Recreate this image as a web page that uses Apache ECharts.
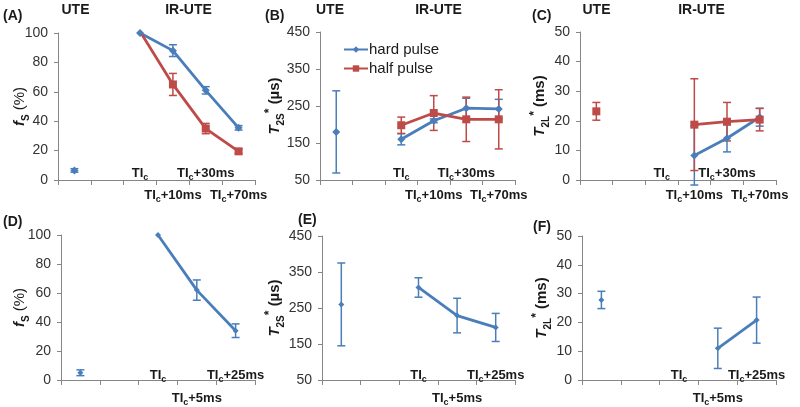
<!DOCTYPE html>
<html><head><meta charset="utf-8">
<script src="https://cdn.jsdelivr.net/npm/echarts@6/dist/echarts.min.js"></script>
<style>html,body{margin:0;padding:0;background:#fff}#c{width:800px;height:407px}</style>
</head><body><div id="c"></div>
<script>
// ---- data ----
const catsTop = ['UTE', '', 'TIc', 'TIc+10ms', 'TIc+30ms', 'TIc+70ms'];
const catsBottom = ['UTE', '', 'TIc', 'TIc+5ms', 'TIc+25ms'];

const fsHard = [6.5, null, 100, 88, 61, 35.5];
const fsHardErr = [1.2, null, 0, 4, 2.5, 1.5];
const fsHalf = [null, null, 101, 65, 35, 19.5];
const fsHalfErr = [null, null, 0, 7.5, 3.5, 1.5];

const t2sHard = [180, null, 160, 210, 244, 242];
const t2sHardErr = [111, null, 15, 5, 27, 26];
const t2sHalf = [null, null, 198, 231, 214, 214];
const t2sHalfErr = [null, null, 22, 47, 60, 80];

const t2lHard = [null, null, null, 8.3, 14.1, 21.2];
const t2lHardErr = [null, null, null, 10, 4.6, 3];
const t2lHalf = [23.2, null, null, 18.7, 19.7, 20.4];
const t2lHalfErr = [3, null, null, 15.5, 6.5, 3.8];

const fs5 = [5, null, 100, 62, 34];
const fs5Err = [2, null, 0, 7, 4.7];
const t2s5 = [260, null, 307, 229, 196];
const t2s5Err = [115, null, 27, 48, 39];
const t2l5 = [27.8, null, null, 11, 20.8];
const t2l5Err = [3, null, null, 7, 8];

const fsTicks = {min: 0, max: 100, interval: 20};
const t2sTicks = {min: 50, max: 450, interval: 100};
const t2lTicks = {min: 0, max: 50, interval: 10};

// ---- styles ----
const BLUE = '#4A7EBB';
const RED = '#BE4B48';
const AXIS = '#868686';
const FONT = 'Liberation Sans, Arial, sans-serif';

const catRich = {
  b: {fontFamily: FONT, fontWeight: 'bold', fontSize: 13, color: '#1a1a1a', lineHeight: 18},
  s: {fontFamily: FONT, fontWeight: 'bold', fontSize: 9, color: '#1a1a1a', lineHeight: 18, verticalAlign: 'bottom'}
};
function fmtCat(v) {
  if (!v || v.indexOf('TIc') !== 0) return '';
  const rest = v.slice(3);
  return '{b|TI}{s|c}' + (rest ? '{b|' + rest + '}' : '');
}
const nameRich = {
  i: {fontFamily: FONT, fontWeight: 'bold', fontStyle: 'italic', fontSize: 15, color: '#1a1a1a', lineHeight: 22},
  sub: {fontFamily: FONT, fontWeight: 'bold', fontSize: 10, color: '#1a1a1a', lineHeight: 22, verticalAlign: 'bottom'},
  sup: {fontFamily: FONT, fontWeight: 'bold', fontSize: 12, color: '#1a1a1a', lineHeight: 22, verticalAlign: 'top'},
  r: {fontFamily: FONT, fontSize: 15, color: '#1a1a1a', lineHeight: 22},
  bb: {fontFamily: FONT, fontWeight: 'bold', fontSize: 15, color: '#1a1a1a', lineHeight: 22}
};
const NAME_FS = '{i|f}{sub|S}{r| (%)}';
const NAME_T2S = '{i|T}{sub|2S}{sup|*}{bb| (µs)}';
const NAME_T2L = '{i|T}{sub|2L}{sup|*}{bb| (ms)}';

const panels = [
  {grid: {left: 58, top: 33, width: 197, height: 147}, cats: catsTop, ticks: fsTicks, name: NAME_FS, gap: 27, up: -16, low: 6,
   series: [{name: 'hard pulse', v: fsHard, e: fsHardErr, c: BLUE, sym: 'diamond', size: 8},
            {name: 'half pulse', v: fsHalf, e: fsHalfErr, c: RED, sym: 'rect', size: 8}]},
  {grid: {left: 320, top: 32, width: 195, height: 148}, cats: catsTop, ticks: t2sTicks, name: NAME_T2S, gap: 34, up: -16, low: 6,
   series: [{name: 'hard pulse', v: t2sHard, e: t2sHardErr, c: BLUE, sym: 'diamond', size: 8},
            {name: 'half pulse', v: t2sHalf, e: t2sHalfErr, c: RED, sym: 'rect', size: 8}]},
  {grid: {left: 580, top: 32, width: 196, height: 148}, cats: catsTop, ticks: t2lTicks, name: NAME_T2L, gap: 29, up: -16, low: 6,
   series: [{name: 'hard pulse', v: t2lHard, e: t2lHardErr, c: BLUE, sym: 'diamond', size: 8},
            {name: 'half pulse', v: t2lHalf, e: t2lHalfErr, c: RED, sym: 'rect', size: 8}]},
  {grid: {left: 61, top: 235, width: 194, height: 148}, cats: catsBottom, ticks: fsTicks, name: NAME_FS, gap: 30, up: -14, low: 9,
   series: [{name: 'hard pulse', v: fs5, e: fs5Err, c: BLUE, sym: 'diamond', size: 6}]},
  {grid: {left: 322, top: 236, width: 193, height: 148}, cats: catsBottom, ticks: t2sTicks, name: NAME_T2S, gap: 36, up: -14, low: 9,
   series: [{name: 'hard pulse', v: t2s5, e: t2s5Err, c: BLUE, sym: 'diamond', size: 6}]},
  {grid: {left: 582, top: 236, width: 194, height: 147}, cats: catsBottom, ticks: t2lTicks, name: NAME_T2L, gap: 29, up: -14, low: 9,
   series: [{name: 'hard pulse', v: t2l5, e: t2l5Err, c: BLUE, sym: 'diamond', size: 6}]}
];

const grids = [], xAxes = [], yAxes = [], series = [];
panels.forEach((p, g) => {
  grids.push(Object.assign({containLabel: false}, p.grid));
  xAxes.push({
    type: 'category', gridIndex: g, data: p.cats, position: 'bottom', boundaryGap: true,
    axisLine: {show: true, lineStyle: {color: AXIS, width: 1}},
    axisTick: {show: true, interval: 0, length: 5, lineStyle: {color: AXIS}},
    axisLabel: {interval: (i) => i % 2 === 0, margin: p.up, formatter: fmtCat, rich: catRich},
    splitLine: {show: false}
  });
  xAxes.push({
    type: 'category', gridIndex: g, data: p.cats, position: 'bottom', boundaryGap: true,
    axisLine: {show: false}, axisTick: {show: false},
    axisLabel: {interval: (i) => i % 2 === 1, margin: p.low, formatter: fmtCat, rich: catRich},
    splitLine: {show: false}
  });
  yAxes.push({
    type: 'value', gridIndex: g, min: p.ticks.min, max: p.ticks.max, interval: p.ticks.interval,
    axisLine: {show: true, lineStyle: {color: AXIS, width: 1}},
    axisTick: {show: true, length: 4, lineStyle: {color: AXIS}},
    axisLabel: {fontFamily: FONT, fontSize: 14, color: '#333', margin: 10},
    splitLine: {show: false},
    name: p.name, nameLocation: 'middle', nameGap: p.gap, nameRotate: 90, nameMoveOverlap: false,
    nameTextStyle: {rich: nameRich}
  });
  p.series.forEach((s) => {
    const errData = [];
    s.v.forEach((val, i) => {
      if (val != null && s.e[i]) errData.push([i, val - s.e[i], val + s.e[i]]);
    });
    series.push({
      type: 'custom', xAxisIndex: 2 * g, yAxisIndex: g, data: errData, silent: true, z: 3,
      renderItem: (params, api) => {
        const x = api.value(0);
        const lo = api.coord([x, api.value(1)]);
        const hi = api.coord([x, api.value(2)]);
        const w = 4;
        const st = {stroke: s.c, lineWidth: 1.5};
        return {type: 'group', children: [
          {type: 'line', shape: {x1: lo[0], y1: lo[1], x2: hi[0], y2: hi[1]}, style: st},
          {type: 'line', shape: {x1: lo[0] - w, y1: lo[1], x2: lo[0] + w, y2: lo[1]}, style: st},
          {type: 'line', shape: {x1: hi[0] - w, y1: hi[1], x2: hi[0] + w, y2: hi[1]}, style: st}
        ]};
      }
    });
    series.push({
      type: 'line', name: s.name, xAxisIndex: 2 * g, yAxisIndex: g, data: s.v, z: 4,
      symbol: s.sym, symbolSize: s.size, showSymbol: true, connectNulls: false,
      lineStyle: {color: s.c, width: 2.8}, itemStyle: {color: s.c, borderWidth: 0}
    });
  });
});

function txt(x, y, t, align) {
  return {type: 'text', x: x, y: y, style: {text: t, font: 'bold 14px ' + FONT, fill: '#1a1a1a', textAlign: align || 'left', textVerticalAlign: 'middle'}};
}
const graphics = [
  txt(3, 16, '(A)'), txt(265, 16, '(B)'), txt(532, 16, '(C)'),
  txt(3, 222, '(D)'), txt(298, 220, '(E)'), txt(533, 227, '(F)'),
  txt(75.5, 10, 'UTE', 'center'), txt(188.5, 10, 'IR-UTE', 'center'),
  txt(330, 10, 'UTE', 'center'), txt(438.5, 10, 'IR-UTE', 'center'),
  txt(596.5, 10, 'UTE', 'center'), txt(701.5, 10, 'IR-UTE', 'center')
];

const chart = echarts.init(document.getElementById('c'), null, {renderer: 'canvas'});
chart.setOption({
  animation: false,
  backgroundColor: '#fff',
  grid: grids, xAxis: xAxes, yAxis: yAxes, series: series,
  legend: {
    data: ['hard pulse', 'half pulse'], orient: 'vertical', left: 338, top: 37,
    itemWidth: 24, itemHeight: 8, itemGap: 4,
    textStyle: {fontFamily: FONT, fontSize: 15, color: '#1a1a1a', padding: [0, 0, 0, -4]},
    selectedMode: false
  },
  graphic: graphics
});
</script>
</body></html>
